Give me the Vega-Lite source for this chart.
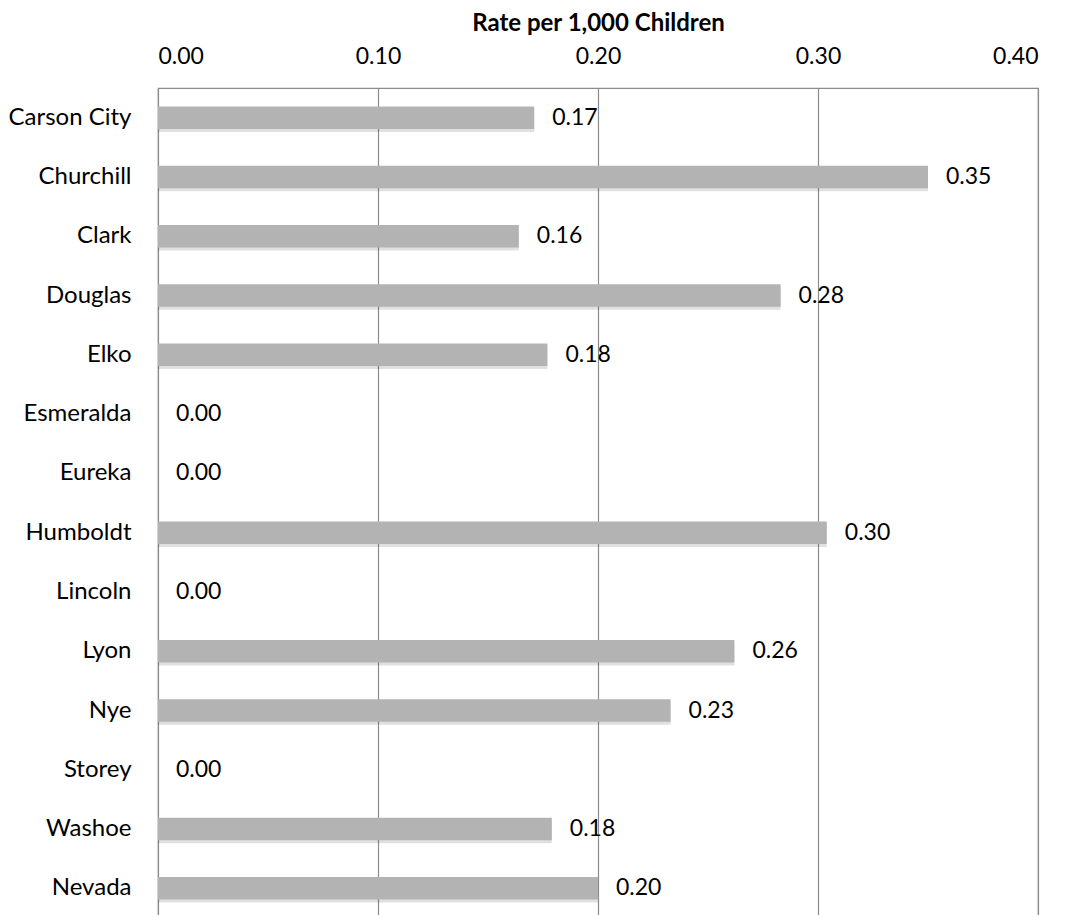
{
  "$schema": "https://vega.github.io/schema/vega-lite/v6.json",
  "width": 880,
  "height": 830,
  "autosize": {"type": "none"},
  "padding": {"left": 158, "top": 88, "right": 28, "bottom": 0},
  "background": "white",
  "config": {
    "font": "Lato",
    "view": {"stroke": "#8c8c8c", "strokeWidth": 1.2}
  },
  "data": {
    "values": [
      {"county": "Carson City", "rate": 0.171},
      {"county": "Churchill", "rate": 0.35},
      {"county": "Clark", "rate": 0.164},
      {"county": "Douglas", "rate": 0.283},
      {"county": "Elko", "rate": 0.177},
      {"county": "Esmeralda", "rate": 0},
      {"county": "Eureka", "rate": 0},
      {"county": "Humboldt", "rate": 0.304},
      {"county": "Lincoln", "rate": 0},
      {"county": "Lyon", "rate": 0.262},
      {"county": "Nye", "rate": 0.233},
      {"county": "Storey", "rate": 0},
      {"county": "Washoe", "rate": 0.179},
      {"county": "Nevada", "rate": 0.2}
    ]
  },
  "encoding": {
    "y": {
      "field": "county",
      "type": "nominal",
      "sort": null,
      "scale": {"paddingInner": 0.62, "paddingOuter": 0.31},
      "axis": {
        "title": null,
        "domain": false,
        "ticks": false,
        "labelFontSize": 24,
        "labelColor": "#000000",
        "labelPadding": 27,
        "labelFont": "Lato"
      }
    }
  },
  "layer": [
    {
      "mark": {"type": "bar", "color": "#000000", "opacity": 0.12, "yOffset": 3, "x2Offset": 3},
      "encoding": {
        "x": {"field": "rate", "type": "quantitative"}
      }
    },
    {
      "mark": {"type": "bar", "color": "#b3b3b3"},
      "encoding": {
        "x": {
          "field": "rate",
          "type": "quantitative",
          "scale": {"domain": [0, 0.4], "nice": false},
          "axis": {
            "orient": "top",
            "title": "Rate per 1,000 Children",
            "titleFontSize": 24,
            "titleFontWeight": "bold",
            "titleColor": "#000000",
            "titlePadding": 10,
            "titleFont": "Lato",
            "values": [0, 0.1, 0.2, 0.3, 0.4],
            "format": ".2f",
            "domain": false,
            "ticks": false,
            "labelFontSize": 23,
            "labelColor": "#000000",
            "labelPadding": 20,
            "labelFont": "Lato",
            "grid": true,
            "gridColor": "#8c8c8c",
            "gridWidth": 1.2
          }
        }
      }
    },
    {
      "mark": {"type": "text", "align": "left", "baseline": "middle", "dx": 18, "fontSize": 23, "color": "#000000", "font": "Lato"},
      "encoding": {
        "x": {"field": "rate", "type": "quantitative"},
        "text": {"field": "rate", "type": "quantitative", "format": ".2f"}
      }
    }
  ]
}
